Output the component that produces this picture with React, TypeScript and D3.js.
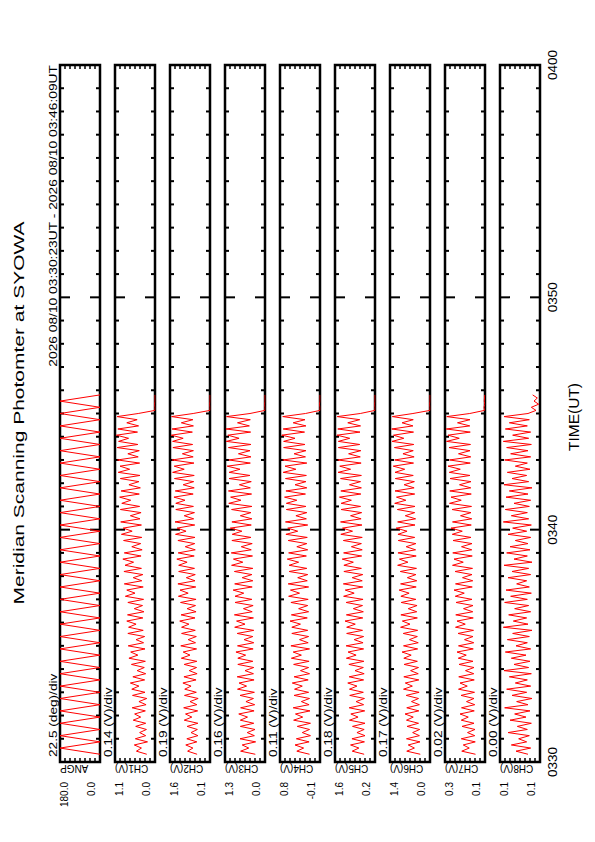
import React from 'react';
import * as d3 from 'd3';

// page is the landscape plot turned 90 degrees for portrait
const PAGE_W = 842;

// time axis, seconds after 03:30:00 UT
const timeTicks = [0, 600, 1200, 1800];
const timeTickLabels = ['0330', '0340', '0350', '0400'];

const panelNames = ['ANGP', 'CH1(V)', 'CH2(V)', 'CH3(V)', 'CH4(V)', 'CH5(V)', 'CH6(V)', 'CH7(V)', 'CH8(V)'];
const divLabels = ['22.5 (deg)/div', '0.14 (V)/div', '0.19 (V)/div', '0.16 (V)/div', '0.11 (V)/div',
  '0.18 (V)/div', '0.17 (V)/div', '0.02 (V)/div', '0.00 (V)/div'];
const topLabels = ['180.0', '1.1', '1.6', '1.3', '0.8', '1.6', '1.4', '0.3', '0.1'];
const bottomLabels = ['0.0', '0.0', '0.1', '0.0', '-0.1', '0.2', '0.0', '0.1', '0.1'];
const domains: [number, number][] = [
  [0, 180], [0, 1.12], [0.08, 1.6], [0, 1.28], [-0.08, 0.8],
  [0.16, 1.6], [0.02, 1.38], [0.12, 0.28], [0.1, 0.13],
];

// scan angle turning points, one every 16 s from 03:30:20
const angpStart = 20;
const angpStep = 16;
const angp = [
  0, 180, 0, 180, 0, 180, 0, 180, 0, 180,
  0, 180, 0, 180, 0, 180, 0, 180, 0, 180,
  0, 180, 0, 180, 0, 180, 0, 180, 0, 180,
  0, 180, 0, 180, 0, 180, 0, 180, 0, 180,
  0, 180, 0, 180, 0, 180, 0, 180, 0, 180,
  0, 180, 0, 180, 0, 180, 0, 180, 0,
];

// photometer channels, one sample every 8 s from 03:30:20
const chStart = 20;
const chStep = 8;
const ch1 = [
  0.23, 0.52, 0.38, 0.58, 0.21, 0.55, 0.26, 0.43, 0.24, 0.54,
  0.26, 0.61, 0.40, 0.57, 0.27, 0.64, 0.25, 0.45, 0.23, 0.63,
  0.28, 0.65, 0.45, 0.69, 0.29, 0.62, 0.26, 0.50, 0.30, 0.66,
  0.27, 0.73, 0.48, 0.68, 0.28, 0.75, 0.32, 0.53, 0.29, 0.76,
  0.33, 0.74, 0.53, 0.79, 0.34, 0.77, 0.31, 0.58, 0.35, 0.76,
  0.32, 0.83, 0.56, 0.79, 0.33, 0.86, 0.37, 0.61, 0.34, 0.87,
  0.38, 0.84, 0.60, 0.90, 0.39, 0.86, 0.36, 0.65, 0.40, 0.88,
  0.37, 0.94, 0.64, 0.89, 0.38, 0.96, 0.42, 0.69, 0.39, 0.97,
  0.43, 0.93, 0.68, 0.99, 0.44, 0.95, 0.41, 0.73, 0.45, 0.97,
  0.42, 1.03, 0.71, 0.98, 0.43, 1.05, 0.47, 0.76, 0.44, 1.06,
  0.48, 1.02, 0.74, 1.08, 0.49, 1.04, 0.46, 0.79, 0.50, 1.06, 0.47,
  0.00, 0.00, 0.01, 0.00, 0.00, 0.00,
];
const ch2 = [
  0.57, 0.93, 0.73, 1.00, 0.58, 0.96, 0.54, 0.80, 0.56, 0.95,
  0.54, 1.06, 0.77, 1.01, 0.55, 1.08, 0.58, 0.84, 0.53, 1.05,
  0.60, 1.04, 0.80, 1.11, 0.61, 1.07, 0.57, 0.87, 0.59, 1.06,
  0.58, 1.17, 0.84, 1.10, 0.59, 1.19, 0.63, 0.91, 0.60, 1.16,
  0.64, 1.16, 0.88, 1.23, 0.65, 1.18, 0.61, 0.95, 0.63, 1.20,
  0.61, 1.28, 0.91, 1.22, 0.62, 1.30, 0.65, 0.98, 0.64, 1.27,
  0.67, 1.27, 0.95, 1.34, 0.68, 1.29, 0.64, 1.02, 0.66, 1.30,
  0.65, 1.39, 0.99, 1.33, 0.66, 1.41, 0.70, 1.06, 0.67, 1.38,
  0.71, 1.38, 1.03, 1.45, 0.72, 1.40, 0.68, 1.10, 0.70, 1.43,
  0.68, 1.50, 1.06, 1.44, 0.69, 1.52, 0.72, 1.13, 0.71, 1.49,
  0.74, 1.50, 1.10, 1.55, 0.75, 1.52, 0.71, 1.17, 0.73, 1.54, 0.72,
  0.08, 0.08, 0.09, 0.08, 0.08, 0.08,
];
const ch3 = [
  0.31, 0.78, 0.52, 0.73, 0.30, 0.80, 0.34, 0.57, 0.32, 0.79,
  0.36, 0.79, 0.56, 0.84, 0.35, 0.78, 0.33, 0.61, 0.37, 0.80,
  0.34, 0.88, 0.59, 0.83, 0.35, 0.89, 0.37, 0.64, 0.36, 0.87,
  0.39, 0.87, 0.62, 0.93, 0.38, 0.88, 0.36, 0.67, 0.39, 0.89,
  0.36, 0.97, 0.64, 0.91, 0.37, 0.98, 0.41, 0.69, 0.38, 0.96,
  0.42, 0.96, 0.68, 1.02, 0.41, 0.97, 0.39, 0.73, 0.42, 0.98,
  0.39, 1.07, 0.71, 1.01, 0.40, 1.08, 0.44, 0.76, 0.41, 1.06,
  0.45, 1.05, 0.74, 1.11, 0.44, 1.06, 0.42, 0.79, 0.45, 1.07,
  0.42, 1.16, 0.77, 1.10, 0.43, 1.17, 0.47, 0.82, 0.44, 1.15,
  0.48, 1.15, 0.80, 1.21, 0.47, 1.16, 0.45, 0.85, 0.48, 1.17,
  0.45, 1.24, 0.83, 1.19, 0.46, 1.25, 0.50, 0.88, 0.47, 1.23, 0.48,
  0.00, 0.00, 0.01, 0.00, 0.00, 0.00,
];
const ch4 = [
  0.15, 0.43, 0.28, 0.47, 0.16, 0.44, 0.13, 0.31, 0.15, 0.42,
  0.13, 0.50, 0.30, 0.46, 0.14, 0.51, 0.16, 0.33, 0.15, 0.49,
  0.17, 0.48, 0.31, 0.53, 0.18, 0.49, 0.15, 0.35, 0.17, 0.50,
  0.16, 0.55, 0.33, 0.51, 0.15, 0.56, 0.18, 0.37, 0.17, 0.54,
  0.19, 0.54, 0.35, 0.58, 0.20, 0.55, 0.17, 0.39, 0.19, 0.56,
  0.18, 0.61, 0.37, 0.57, 0.17, 0.62, 0.20, 0.41, 0.19, 0.60,
  0.21, 0.60, 0.39, 0.64, 0.22, 0.61, 0.19, 0.43, 0.21, 0.62,
  0.20, 0.67, 0.41, 0.63, 0.19, 0.68, 0.22, 0.45, 0.21, 0.66,
  0.23, 0.66, 0.43, 0.70, 0.24, 0.67, 0.21, 0.47, 0.23, 0.68,
  0.22, 0.73, 0.45, 0.69, 0.21, 0.74, 0.24, 0.49, 0.23, 0.72,
  0.25, 0.72, 0.47, 0.76, 0.26, 0.73, 0.23, 0.51, 0.25, 0.74, 0.24,
  -0.08, -0.08, -0.07, -0.08, -0.08, -0.08,
];
const ch5 = [
  0.55, 0.98, 0.74, 1.04, 0.54, 0.99, 0.52, 0.81, 0.55, 0.97,
  0.52, 1.08, 0.77, 1.03, 0.53, 1.09, 0.57, 0.84, 0.54, 1.07,
  0.58, 1.08, 0.81, 1.14, 0.57, 1.09, 0.55, 0.88, 0.58, 1.10,
  0.56, 1.19, 0.84, 1.13, 0.57, 1.20, 0.59, 0.91, 0.57, 1.18,
  0.61, 1.18, 0.87, 1.24, 0.60, 1.19, 0.58, 0.94, 0.61, 1.20,
  0.59, 1.29, 0.91, 1.23, 0.60, 1.30, 0.62, 0.98, 0.60, 1.28,
  0.65, 1.28, 0.94, 1.34, 0.64, 1.29, 0.62, 1.01, 0.65, 1.30,
  0.62, 1.39, 0.97, 1.33, 0.63, 1.40, 0.66, 1.04, 0.64, 1.38,
  0.68, 1.38, 1.01, 1.44, 0.67, 1.39, 0.65, 1.08, 0.68, 1.40,
  0.65, 1.49, 1.04, 1.43, 0.66, 1.50, 0.69, 1.11, 0.67, 1.48,
  0.71, 1.48, 1.07, 1.53, 0.70, 1.50, 0.68, 1.14, 0.71, 1.52, 0.69,
  0.16, 0.16, 0.17, 0.16, 0.16, 0.16,
];
const ch6 = [
  0.35, 0.81, 0.55, 0.76, 0.36, 0.82, 0.38, 0.61, 0.37, 0.80,
  0.41, 0.82, 0.59, 0.87, 0.40, 0.81, 0.38, 0.65, 0.41, 0.83,
  0.39, 0.92, 0.62, 0.86, 0.40, 0.91, 0.42, 0.68, 0.41, 0.90,
  0.45, 0.91, 0.66, 0.97, 0.44, 0.92, 0.42, 0.72, 0.45, 0.93,
  0.44, 1.02, 0.70, 0.96, 0.45, 1.01, 0.47, 0.76, 0.46, 1.00,
  0.50, 1.01, 0.73, 1.07, 0.49, 1.02, 0.47, 0.79, 0.50, 1.03,
  0.48, 1.12, 0.77, 1.06, 0.49, 1.11, 0.51, 0.83, 0.50, 1.10,
  0.54, 1.11, 0.80, 1.17, 0.53, 1.12, 0.51, 0.86, 0.54, 1.13,
  0.53, 1.22, 0.84, 1.16, 0.54, 1.21, 0.56, 0.90, 0.55, 1.20,
  0.59, 1.21, 0.88, 1.27, 0.58, 1.22, 0.56, 0.94, 0.59, 1.23,
  0.57, 1.31, 0.91, 1.26, 0.58, 1.32, 0.60, 0.97, 0.59, 1.30, 0.60,
  0.02, 0.02, 0.03, 0.02, 0.02, 0.02,
];
const ch7 = [
  0.158, 0.213, 0.183, 0.207, 0.159, 0.215, 0.161, 0.190, 0.160, 0.212,
  0.164, 0.215, 0.187, 0.220, 0.163, 0.214, 0.161, 0.194, 0.164, 0.216,
  0.162, 0.226, 0.191, 0.220, 0.163, 0.225, 0.165, 0.198, 0.164, 0.224,
  0.168, 0.227, 0.195, 0.232, 0.167, 0.226, 0.165, 0.202, 0.168, 0.228,
  0.166, 0.238, 0.199, 0.232, 0.167, 0.237, 0.169, 0.206, 0.168, 0.236,
  0.172, 0.239, 0.203, 0.244, 0.171, 0.238, 0.169, 0.210, 0.172, 0.240,
  0.170, 0.250, 0.207, 0.244, 0.171, 0.249, 0.173, 0.214, 0.172, 0.248,
  0.176, 0.251, 0.211, 0.256, 0.175, 0.250, 0.173, 0.218, 0.176, 0.252,
  0.174, 0.262, 0.215, 0.256, 0.175, 0.261, 0.177, 0.222, 0.176, 0.260,
  0.180, 0.263, 0.219, 0.268, 0.179, 0.262, 0.177, 0.226, 0.180, 0.264,
  0.178, 0.274, 0.223, 0.268, 0.179, 0.275, 0.181, 0.230, 0.180, 0.273, 0.181,
  0.122, 0.124, 0.121, 0.123, 0.122, 0.121,
];
const ch8 = [
  0.1090, 0.1180, 0.1070, 0.1215, 0.1100, 0.1160, 0.1080, 0.1240, 0.1095, 0.1170,
  0.1065, 0.1225, 0.1105, 0.1190, 0.1075, 0.1265, 0.1090, 0.1175, 0.1060, 0.1210,
  0.1100, 0.1250, 0.1070, 0.1185, 0.1095, 0.1230, 0.1065, 0.1270, 0.1085, 0.1195,
  0.1075, 0.1215, 0.1105, 0.1260, 0.1070, 0.1180, 0.1095, 0.1245, 0.1080, 0.1205,
  0.1060, 0.1275, 0.1090, 0.1200, 0.1100, 0.1235, 0.1070, 0.1190, 0.1085, 0.1265,
  0.1095, 0.1220, 0.1065, 0.1255, 0.1080, 0.1175, 0.1100, 0.1240, 0.1070, 0.1210,
  0.1085, 0.1270, 0.1060, 0.1195, 0.1095, 0.1250, 0.1075, 0.1225, 0.1090, 0.1185,
  0.1070, 0.1240, 0.1100, 0.1205, 0.1065, 0.1275, 0.1085, 0.1215, 0.1095, 0.1260,
  0.1080, 0.1195, 0.1070, 0.1255, 0.1090, 0.1230, 0.1060, 0.1270, 0.1085, 0.1210,
  0.1100, 0.1245, 0.1075, 0.1185, 0.1095, 0.1265, 0.1070, 0.1220, 0.1090, 0.1250,
  0.1065, 0.1275, 0.1085, 0.1205, 0.1070, 0.1260, 0.1095, 0.1230, 0.1080, 0.1270, 0.1090,
  0.1030, 0.1065, 0.1010, 0.1045, 0.1020, 0.1055,
];
const channels = [ch1, ch2, ch3, ch4, ch5, ch6, ch7, ch8];

const FONT = '"Liberation Sans", Arial, Helvetica, sans-serif';

const Label: React.FC<{
  x: number; y: number; text: string; size: number;
  anchor?: 'start' | 'middle' | 'end'; rotate?: number; stretch?: number;
}> = ({ x, y, text, size, anchor = 'start', rotate = 0, stretch = 1 }) => (
  <text
    transform={`translate(${x},${y}) rotate(${rotate}) scale(${stretch},1)`}
    fontSize={size}
    textAnchor={anchor}
    fontFamily={FONT}
    fill="#000"
  >
    {text}
  </text>
);

const App: React.FC = () => {
  const margin = { left: 80, right: 65, top: 60 };
  const panelH = 40;
  const panelGap = 15;
  const x = d3.scaleLinear().domain([0, 1800]).range([margin.left, PAGE_W - margin.right]);
  const [x0, x1] = x.range();
  const minutes = d3.range(1, 30);

  const panels = panelNames.map((name, i) => {
    const top = margin.top + i * (panelH + panelGap);
    const bottom = top + panelH;
    const y = d3.scaleLinear().domain(domains[i]).range([bottom, top]);
    const valueTicks = d3.range(1, 8).map(j => y(domains[i][0] + (j * (domains[i][1] - domains[i][0])) / 8));
    let path: string | null;
    if (i === 0) {
      path = d3.line<number>()
        .x((_, k) => x(angpStart + k * angpStep))
        .y(d => y(d))(angp);
    } else {
      path = d3.line<number>()
        .x((_, k) => x(chStart + k * chStep))
        .y(d => y(d))(channels[i - 1]);
    }
    return { name, i, top, bottom, valueTicks, path };
  });

  return (
    <svg width={595} height={842} style={{ position: 'absolute', left: 0, top: 0, background: '#fff' }}>
      <rect x={0} y={0} width={595} height={842} fill="#fff" />
      <g transform={`rotate(-90) translate(${-PAGE_W},0)`}>
        <Label x={429} y={24} text="Meridian Scanning Photomter at SYOWA" size={15} anchor="middle" stretch={1.4} />
        <Label x={x1} y={57} text="2026 08/10 03:30:23UT - 2026 08/10 03:46:09UT" size={11.5} anchor="end" stretch={1.2} />

        <defs>
          {panels.map(p => (
            <clipPath id={`clip-${p.i}`} key={p.i}>
              <rect x={x0} y={p.top - 0.5} width={x1 - x0} height={panelH + 1} />
            </clipPath>
          ))}
        </defs>

        {panels.map(p => (
          <g key={p.i}>
            <rect x={x0} y={p.top} width={x1 - x0} height={panelH} fill="none" stroke="#000" strokeWidth={2.5} />
            {minutes.map(m => {
              const len = m % 10 === 0 ? 10 : 4;
              const tx = x(m * 60);
              return (
                <g key={m} stroke="#000" strokeWidth={2}>
                  <line x1={tx} x2={tx} y1={p.top} y2={p.top + len} />
                  <line x1={tx} x2={tx} y1={p.bottom} y2={p.bottom - len} />
                </g>
              );
            })}
            {p.valueTicks.map((ty, j) => (
              <g key={j} stroke="#000" strokeWidth={1.5}>
                <line x1={x0} x2={x0 + 4} y1={ty} y2={ty} />
                <line x1={x1} x2={x1 - 4} y1={ty} y2={ty} />
              </g>
            ))}
            <path d={p.path ?? ''} fill="none" stroke="#ff0000" strokeWidth={1} clipPath={`url(#clip-${p.i})`} />

            <Label x={x0 + 5} y={p.top - 3} text={divLabels[p.i]} size={10.5} stretch={1.3} />
            <Label x={60} y={p.top + 8} text={topLabels[p.i]} size={10} anchor="end" />
            <Label x={60} y={p.bottom - 5} text={bottomLabels[p.i]} size={10} anchor="end" />
            <Label x={77} y={p.top} text={p.name} size={10} anchor="end" rotate={-90} />
          </g>
        ))}

        {timeTicks.map((t, k) => (
          <Label key={t} x={x(t)} y={557} text={timeTickLabels[k]} size={13.5} anchor="middle" />
        ))}
        <Label x={425} y={579} text="TIME(UT)" size={15.5} anchor="middle" />
      </g>
    </svg>
  );
};

export default App;
